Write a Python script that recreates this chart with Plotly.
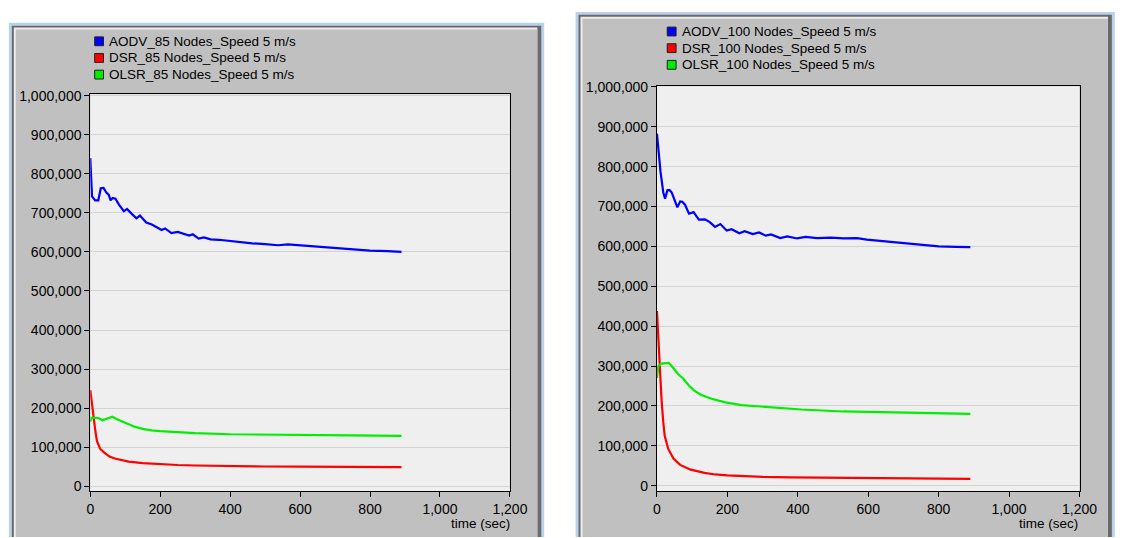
import plotly.graph_objects as go

W, H = 1123, 538

# ---- data: time (sec) and routing load, per protocol ----
aodv85_t = [0, 5, 14, 23, 30, 38, 46, 53, 58, 64, 72, 82, 96, 105, 118, 132, 142, 160, 176, 190,
            204, 214, 232, 250, 265, 283, 293, 310, 325, 344, 368, 396, 425, 463, 500, 537, 565,
            595, 650, 700, 750, 800, 850, 890]
aodv85_v = [840000, 742000, 732000, 732000, 763000, 764000, 752000, 746000, 732000, 738000, 736000,
            721000, 704000, 710000, 698000, 686000, 693000, 675000, 670000, 662000, 656000, 660000,
            648000, 651000, 646000, 642000, 645000, 634000, 637000, 632000, 631000, 628000, 625000,
            622000, 620000, 617000, 619000, 617000, 613000, 610000, 606000, 603000, 602000, 600000]

dsr85_t = [0, 4, 9, 14, 19, 28, 40, 55, 70, 85, 110, 150, 200, 250, 300, 400, 500, 600, 750, 890]
dsr85_v = [246000, 215000, 187000, 145000, 116000, 96000, 86000, 76000, 71000, 68000, 63000,
           59000, 56000, 54300, 53000, 51000, 50500, 50000, 49500, 49000]

olsr85_t = [0, 3, 15, 25, 35, 45, 55, 63, 75, 90, 105, 125, 150, 175, 200, 250, 300, 400, 550,
            750, 890]
olsr85_v = [165000, 175000, 175000, 174000, 169000, 172000, 176000, 178000, 172000, 166000,
            159000, 153000, 147000, 143000, 141000, 138000, 136000, 133000, 131000, 130000, 129000]

aodv100_t = [0, 5, 10, 18, 23, 30, 36, 42, 49, 58, 66, 72, 80, 91, 104, 119, 136, 150, 165, 180,
             198, 212, 234, 249, 272, 290, 309, 324, 350, 370, 398, 422, 455, 494, 530, 568, 596,
             650, 700, 750, 800, 850, 890]
aodv100_v = [883000, 830000, 788000, 735000, 720000, 741000, 741000, 735000, 719000, 698000,
             713000, 712000, 704000, 682000, 686000, 667000, 668000, 661000, 649000, 656000,
             640000, 643000, 633000, 638000, 631000, 635000, 627000, 630000, 621000, 625000,
             620000, 624000, 621000, 622000, 620000, 621000, 617000, 613000, 608000, 604000,
             600000, 599000, 598000]

dsr100_t = [0, 4, 8, 13, 18, 22, 32, 47, 66, 96, 135, 165, 200, 240, 300, 380, 480, 620, 750, 890]
dsr100_v = [438000, 360000, 300000, 216000, 158000, 125000, 92000, 68000, 52000, 40000, 32000,
            28000, 25500, 23500, 22000, 20800, 19800, 18500, 17700, 17000]

olsr100_t = [0, 4, 12, 25, 33, 40, 50, 60, 75, 90, 105, 125, 155, 195, 240, 310, 410, 530, 720, 890]
olsr100_v = [270000, 300000, 306000, 307000, 308000, 302000, 290000, 280000, 268000, 252000,
             239000, 228000, 218000, 209000, 202000, 197000, 191000, 186000, 182000, 180000]

names85 = ["AODV_85 Nodes_Speed 5 m/s", "DSR_85 Nodes_Speed 5 m/s", "OLSR_85 Nodes_Speed 5 m/s"]
names100 = ["AODV_100 Nodes_Speed 5 m/s", "DSR_100 Nodes_Speed 5 m/s", "OLSR_100 Nodes_Speed 5 m/s"]
colors = ["#0000ff", "#ff0000", "#00ee00"]

x_ticks = [0, 200, 400, 600, 800, 1000, 1200]
y_ticks = [0, 100000, 200000, 300000, 400000, 500000, 600000, 700000, 800000, 900000, 1000000]

FONT = "Liberation Sans, Arial, sans-serif"
TICK_SIZE = 14
LABEL_SIZE = 13.5


def fx(p):
    return p / W


def fy(p):
    return 1 - p / H


fig = go.Figure()

series85 = [(aodv85_t, aodv85_v), (dsr85_t, dsr85_v), (olsr85_t, olsr85_v)]
series100 = [(aodv100_t, aodv100_v), (dsr100_t, dsr100_v), (olsr100_t, olsr100_v)]

for (t, v), name, c in zip(series85, names85, colors):
    fig.add_trace(go.Scatter(x=t, y=v, name=name, mode="lines", line=dict(color=c, width=2.2),
                             xaxis="x", yaxis="y", showlegend=False))
for (t, v), name, c in zip(series100, names100, colors):
    fig.add_trace(go.Scatter(x=t, y=v, name=name, mode="lines", line=dict(color=c, width=2.2),
                             xaxis="x2", yaxis="y2", showlegend=False))

# plot-area boxes in pixels: (left, top, right, bottom)
box1 = (88, 88, 516, 493)
box2 = (666, 80, 1097, 493)

axis_common = dict(
    showline=True, linecolor="black", linewidth=1, mirror=True,
    ticks="outside", ticklen=5, tickcolor="black", tickwidth=1,
    tickfont=dict(family=FONT, size=TICK_SIZE, color="black"),
    tickformat=",", zeroline=False,
)

shapes = []


def frame(x0, y0, x1, y1):
    # window-style frame: blue outline, dark edge, light bevel, grey face
    shapes.append(dict(type="rect", xref="paper", yref="paper", layer="below",
                       x0=fx(x0), x1=fx(x1), y0=fy(H + 2), y1=fy(y0),
                       fillcolor="#b9d1ea", line=dict(width=0)))
    shapes.append(dict(type="rect", xref="paper", yref="paper", layer="below",
                       x0=fx(x0 + 3), x1=fx(x1 - 3), y0=fy(H + 2), y1=fy(y0 + 3),
                       fillcolor="#6a6a6a", line=dict(width=0)))
    shapes.append(dict(type="rect", xref="paper", yref="paper", layer="below",
                       x0=fx(x0 + 5), x1=fx(x1 - 7), y0=fy(H + 2), y1=fy(y0 + 5),
                       fillcolor="#ececec", line=dict(width=0)))
    shapes.append(dict(type="rect", xref="paper", yref="paper", layer="below",
                       x0=fx(x0 + 7), x1=fx(x1 - 7), y0=fy(H + 2), y1=fy(y0 + 7),
                       fillcolor="#c0c0c0", line=dict(width=0)))


frame(5, 15, 551, H)
frame(583, 4, W + 10, H)

for b in (box1, box2):
    shapes.append(dict(type="rect", xref="paper", yref="paper", layer="below",
                       x0=fx(b[0]), x1=fx(b[2]), y0=fy(b[3]), y1=fy(b[1]),
                       fillcolor="#efefef", line=dict(width=0)))


def yrange(zero_px, top_px, b):
    per = (zero_px - top_px) / 1e6
    return [-(b[3] - zero_px) / per, 1e6 + (top_px - b[1]) / per]


annotations = []


def legend(x_sq, y_first, names):
    for i, (n, c) in enumerate(zip(names, colors)):
        yc = y_first + i * 17
        shapes.append(dict(type="rect", xref="paper", yref="paper", layer="above",
                           x0=fx(x_sq - 4.5), x1=fx(x_sq + 4.5), y0=fy(yc + 4.5), y1=fy(yc - 4.5),
                           fillcolor=c, line=dict(color="#202020", width=1)))
        annotations.append(dict(xref="paper", yref="paper", x=fx(x_sq + 8), y=fy(yc),
                                xanchor="left", yanchor="middle", showarrow=False, text=n,
                                font=dict(family=FONT, size=LABEL_SIZE, color="black")))


legend(97, 34, names85)
legend(681, 24, names100)

for xr in (518, 1097):
    annotations.append(dict(xref="paper", yref="paper", x=fx(xr), y=fy(526), xanchor="right",
                            yanchor="middle", showarrow=False, text="time (sec)",
                            font=dict(family=FONT, size=LABEL_SIZE, color="black")))

fig.update_layout(
    width=W, height=H, margin=dict(l=0, r=0, t=0, b=0),
    paper_bgcolor="white", plot_bgcolor="rgba(0,0,0,0)",
    font=dict(family=FONT, size=LABEL_SIZE, color="black"),
    xaxis=dict(domain=[fx(box1[0]), fx(box1[2])], range=[0, 1200], tickvals=x_ticks,
               showgrid=False, anchor="y", **axis_common),
    yaxis=dict(domain=[fy(box1[3]), fy(box1[1])], range=yrange(488.2, 89.5, box1),
               tickvals=y_ticks, showgrid=True, gridcolor="#d3d3d3", gridwidth=1,
               anchor="x", **axis_common),
    xaxis2=dict(domain=[fx(box2[0]), fx(box2[2])], range=[0, 1200], tickvals=x_ticks,
                showgrid=False, anchor="y2", **axis_common),
    yaxis2=dict(domain=[fy(box2[3]), fy(box2[1])], range=yrange(487.6, 80.6, box2),
                tickvals=y_ticks, showgrid=True, gridcolor="#d3d3d3", gridwidth=1,
                anchor="x2", **axis_common),
    shapes=shapes, annotations=annotations, showlegend=False,
)

fig.write_html("out.html")
